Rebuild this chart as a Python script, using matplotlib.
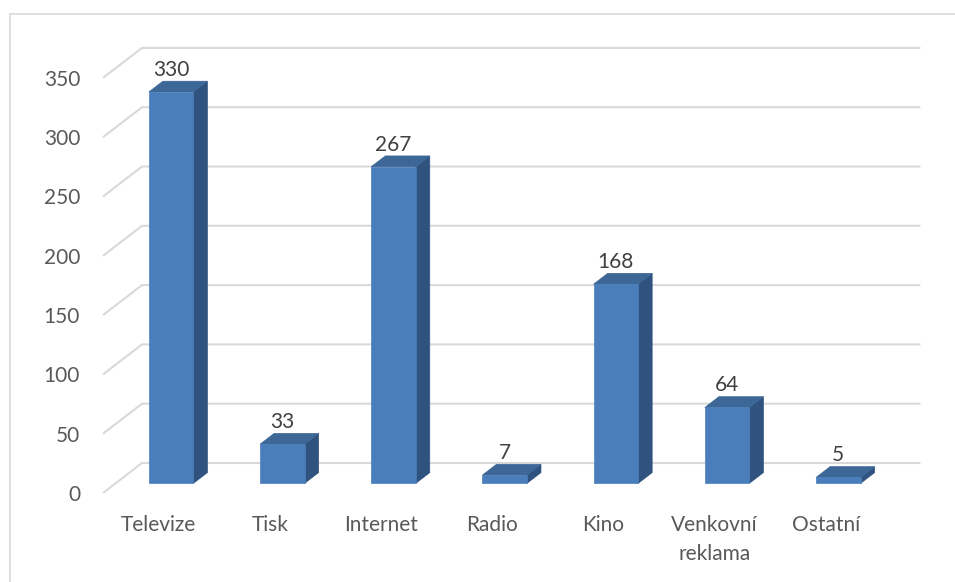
import matplotlib.pyplot as plt
from matplotlib.patches import Polygon, Rectangle

categories = ["Televize", "Tisk", "Internet", "Radio", "Kino", "Venkovní\nreklama", "Ostatní"]
values = [330, 33, 267, 7, 168, 64, 5]
y_ticks = [0, 50, 100, 150, 200, 250, 300, 350]

plt.rcParams['font.family'] = ['Lato', 'DejaVu Sans']

W, H = 955, 582
fig = plt.figure(figsize=(W / 100, H / 100), dpi=100)

# axes in pixel terms: one category = 111.2 px, one unit = 1.186 px
x_scale, y_scale = 111.2, 1.186
left_px, bottom_px, right_px, top_px = 103, 493, 925, 40
ax = fig.add_axes([left_px / W, (H - bottom_px) / H,
                   (right_px - left_px) / W, (bottom_px - top_px) / H])
ax.set_xlim(-0.5, -0.5 + (right_px - left_px) / x_scale)
ax.set_ylim(0, (bottom_px - top_px) / y_scale)

# oblique depth vector (floor front -> back wall) in data units
DX = 39 / x_scale
DY = 30 / y_scale


def proj(x, y, d):
    return (x + d * DX, y + d * DY)


# gridlines: diagonal on the side wall, then along the back wall
grid_col = '#D9D9D9'
for v in y_ticks:
    xs, ys = zip(proj(-0.5, v, 0), proj(-0.5, v, 1), proj(len(values) - 0.5, v, 1))
    ax.plot(xs, ys, color=grid_col, lw=1.5, zorder=1, clip_on=False, solid_capstyle='butt')

# 3d-looking bars
half_w = 0.2
d0, d1 = 0.32, 0.68
front_col, side_col, top_col = '#4A7EBB', '#30527E', '#3C6797'
for i, v in enumerate(values):
    a, b = i - half_w, i + half_w
    front = [proj(a, 0, d0), proj(b, 0, d0), proj(b, v, d0), proj(a, v, d0)]
    side = [proj(b, 0, d0), proj(b, 0, d1), proj(b, v, d1), proj(b, v, d0)]
    top = [proj(a, v, d0), proj(b, v, d0), proj(b, v, d1), proj(a, v, d1)]
    for pts, col in [(side, side_col), (top, top_col), (front, front_col)]:
        ax.add_patch(Polygon(pts, closed=True, facecolor=col, edgecolor=col,
                             lw=0.5, zorder=3, clip_on=False))
    ax.annotate(str(v), xy=proj(i, v, d0), xytext=(0, 16), textcoords='offset points',
                ha='center', va='center', fontsize=15, color='#404040', zorder=4)

ax.set_xticks(range(len(categories)))
ax.set_xticklabels(categories)
ax.set_yticks(y_ticks)
ax.set_yticklabels([str(t) for t in y_ticks])
ax.tick_params(axis='both', length=0, labelsize=15, labelcolor='#595959')
ax.tick_params(axis='x', pad=15.5)
ax.tick_params(axis='y', pad=16.5)
for lab in ax.get_xticklabels():
    lab.set_linespacing(1.6)
for s in ax.spines.values():
    s.set_visible(False)
ax.patch.set_visible(False)

# chart area frame
fig.add_artist(Rectangle((9.5 / W, -0.1), 1.2, (H - 13.5) / H + 0.1,
                         transform=fig.transFigure, fill=False,
                         edgecolor='#D9D9D9', lw=1.2))

fig.savefig('out.png', dpi=100)
